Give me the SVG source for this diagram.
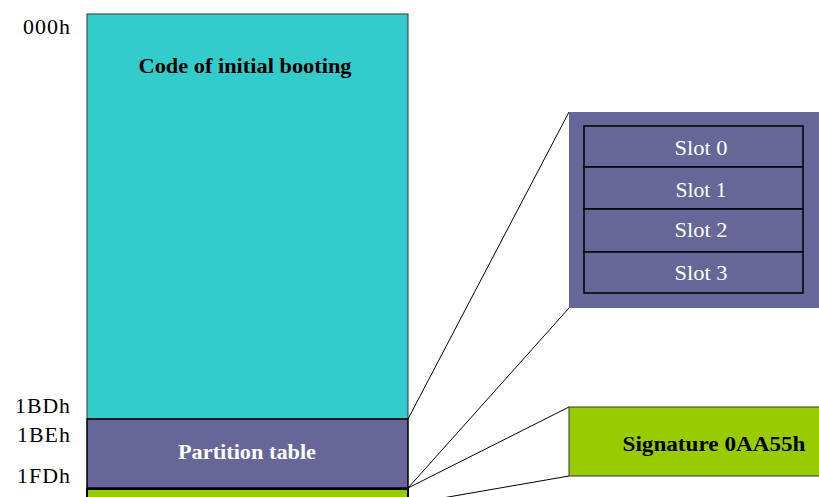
<svg xmlns="http://www.w3.org/2000/svg" width="819" height="497" viewBox="0 0 819 497">
<style>
.lbl{font-family:"Liberation Serif","DejaVu Serif",serif;font-size:21px;fill:#000;letter-spacing:1px}
.bold{font-family:"Liberation Serif","DejaVu Serif",serif;font-size:20px;font-weight:bold}
.slot{font-family:"Liberation Serif","DejaVu Serif",serif;font-size:21px;fill:#fff;text-anchor:middle}
.edge{stroke:#000;stroke-width:1;fill:none}
</style>
<rect width="819" height="497" fill="#fff"/>
<g id="addresses">
<text class="lbl" x="71" y="34" text-anchor="end" textLength="48" lengthAdjust="spacingAndGlyphs">000h</text>
<text class="lbl" x="71" y="413" text-anchor="end" textLength="56" lengthAdjust="spacingAndGlyphs">1BDh</text>
<text class="lbl" x="71" y="442" text-anchor="end" textLength="54" lengthAdjust="spacingAndGlyphs">1BEh</text>
<text class="lbl" x="71" y="483" text-anchor="end" textLength="54" lengthAdjust="spacingAndGlyphs">1FDh</text>
</g>
<g id="connectors">
<line class="edge" x1="408" y1="419" x2="569" y2="112"/>
<line class="edge" x1="408" y1="488" x2="569" y2="308"/>
<line class="edge" x1="408" y1="488" x2="569" y2="407"/>
<line class="edge" x1="569" y1="476" x2="408" y2="504"/>
</g>
<g id="boot-code">
<rect x="87" y="14" width="321" height="405" fill="#33CCCC" stroke="#333" stroke-width="1"/>
<text class="bold" x="245" y="73" text-anchor="middle" textLength="213" lengthAdjust="spacingAndGlyphs">Code of initial booting</text>
</g>
<g id="partition-table">
<rect x="87" y="419" width="321" height="69" fill="#666699" stroke="#000" stroke-width="1.5"/>
<text class="bold" x="247" y="459" text-anchor="middle" fill="#fff" textLength="138" lengthAdjust="spacingAndGlyphs">Partition table</text>
</g>
<g id="signature-strip">
<rect x="87" y="489" width="321" height="20" fill="#99CC00" stroke="#000" stroke-width="2"/>
</g>
<g id="slots">
<rect x="569" y="112" width="260" height="196" fill="#666699"/>
<rect x="584" y="126" width="219" height="41" fill="#666699" stroke="#000" stroke-width="1.5"/>
<rect x="584" y="167" width="219" height="42" fill="#666699" stroke="#000" stroke-width="1.5"/>
<rect x="584" y="209" width="219" height="43" fill="#666699" stroke="#000" stroke-width="1.5"/>
<rect x="584" y="252" width="219" height="41" fill="#666699" stroke="#000" stroke-width="1.5"/>
<text class="slot" x="701" y="155" textLength="53" lengthAdjust="spacingAndGlyphs">Slot 0</text>
<text class="slot" x="701" y="197" textLength="51" lengthAdjust="spacingAndGlyphs">Slot 1</text>
<text class="slot" x="701" y="237" textLength="53" lengthAdjust="spacingAndGlyphs">Slot 2</text>
<text class="slot" x="701" y="280" textLength="53" lengthAdjust="spacingAndGlyphs">Slot 3</text>
</g>
<g id="signature">
<rect x="569" y="407" width="260" height="69" fill="#99CC00" stroke="#333" stroke-width="1"/>
<text class="bold" x="714" y="451" text-anchor="middle" textLength="183" lengthAdjust="spacingAndGlyphs">Signature 0AA55h</text>
</g>
</svg>
